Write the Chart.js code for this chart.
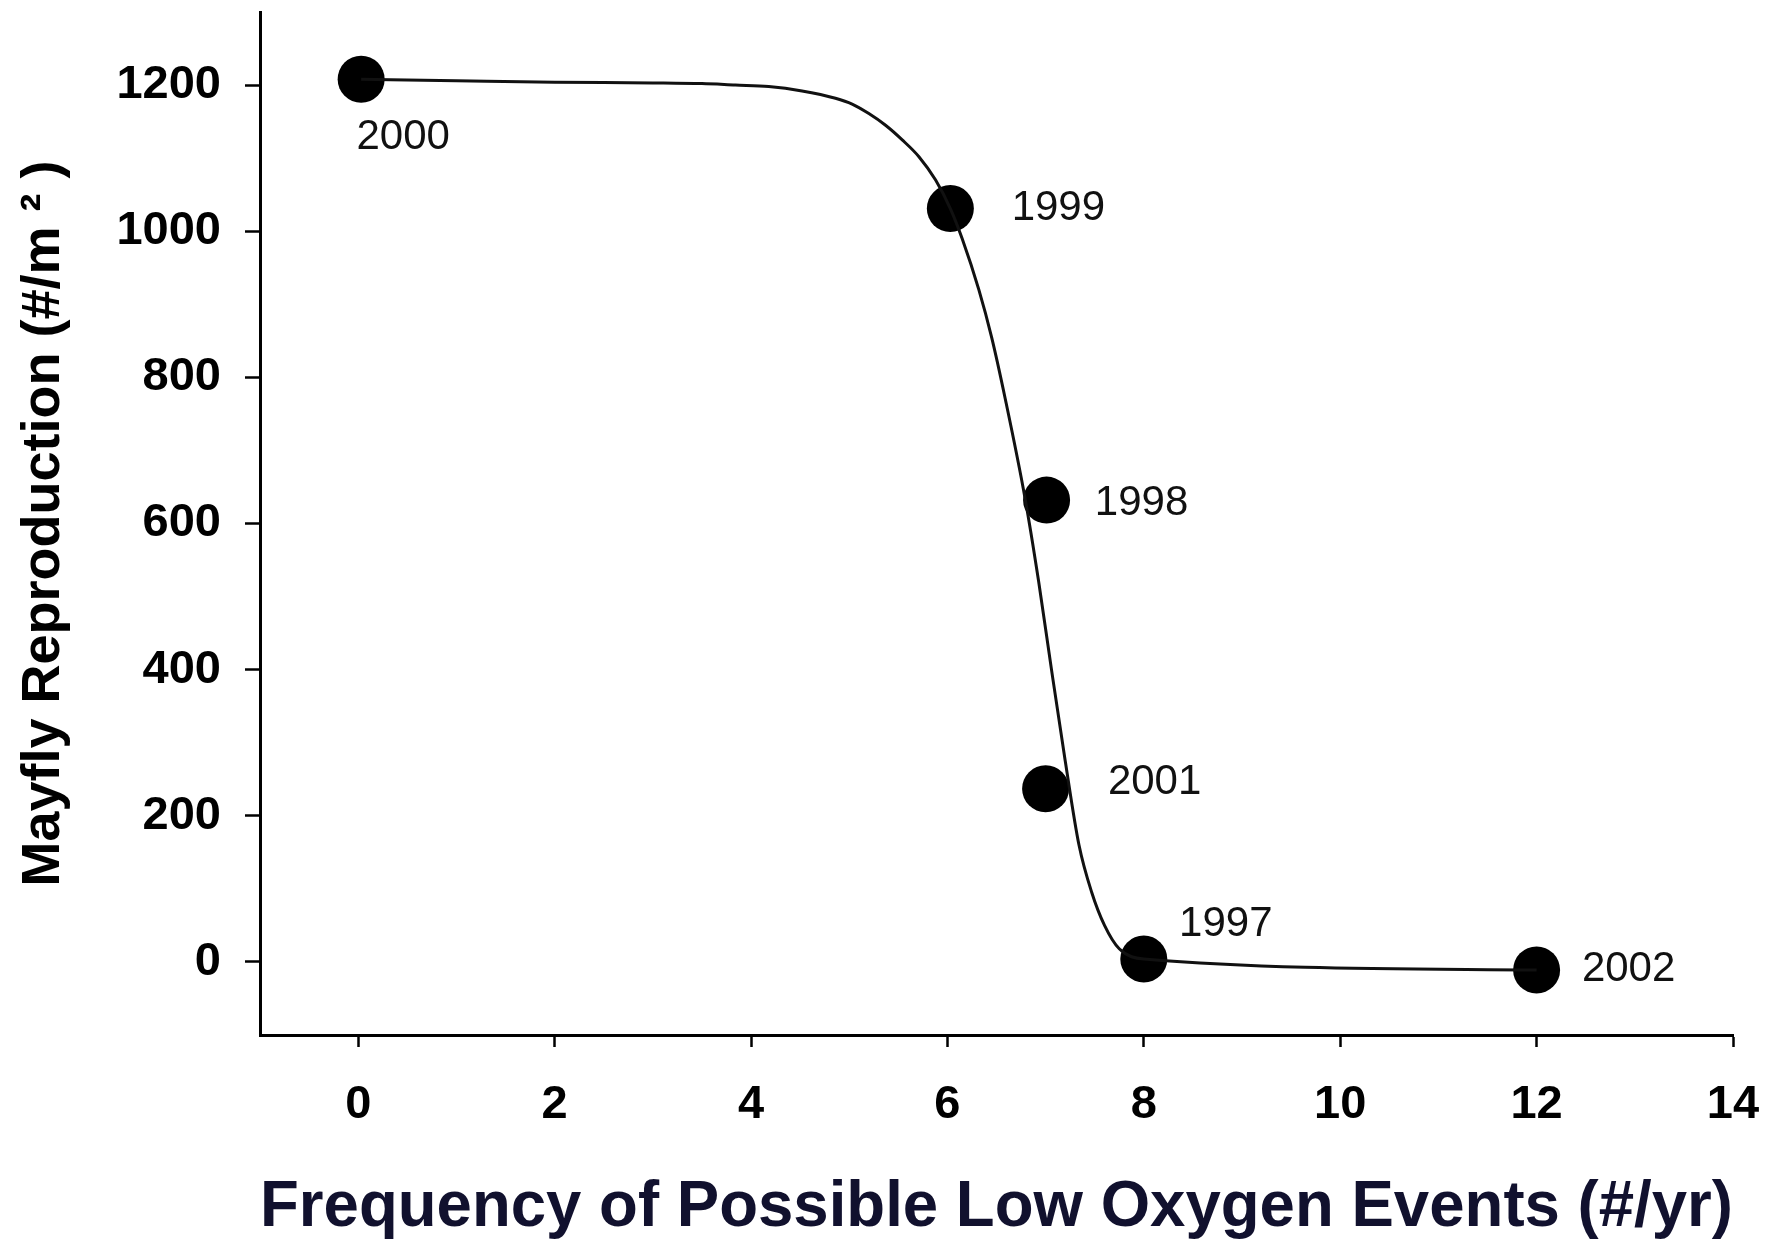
<!DOCTYPE html>
<html>
<head>
<meta charset="utf-8">
<title>Mayfly Reproduction vs Low Oxygen Events</title>
<script src="https://cdn.jsdelivr.net/npm/chart.js@4/dist/chart.umd.min.js"></script>
<style>
  html, body { margin: 0; padding: 0; background: #ffffff; }
  #wrap { width: 1782px; height: 1246px; }
</style>
</head>
<body>
<div id="wrap"><canvas id="chart" width="1782" height="1246"></canvas></div>
<script>
// Observed years: low-oxygen event frequency (#/yr) and mayfly reproduction (#/m2)
const years = ['2000', '1999', '1998', '2001', '1997', '2002'];
const eventFreq = [0.03, 6.03, 7.01, 7.0, 8.0, 12.0];
const reproduction = [1208, 1031, 632, 237, 4, -11];

// Fitted response curve traced through the observations
const curveX = [0.03, 1, 2, 3, 3.5, 3.84, 4.18, 4.52, 4.86, 5.03, 5.2, 5.37, 5.54, 5.71, 5.88, 6.03,
                6.15, 6.32, 6.45, 6.59, 6.79, 6.93, 7.06, 7.2, 7.34, 7.47, 7.6, 7.75, 8.0, 12.0];
const curveY = [1208, 1206, 1204, 1203, 1202, 1200, 1198, 1192, 1182, 1174, 1161, 1145, 1125, 1102, 1070, 1031,
                990, 920, 855, 770, 635, 520, 400, 275, 160, 95, 50, 18, 4, -11];

// Axis tick values
const xTickValues = [0, 2, 4, 6, 8, 10, 12, 14];
const yTickValues = [0, 200, 400, 600, 800, 1000, 1200];

// Year label placement relative to each dot (px)
const labelOffsets = [[42, 58], [108, 0], [95, 3], [109, -6], [82, -35], [92, -1]];

const FONT = '"Liberation Sans", Arial, Helvetica, sans-serif';

const yearLabels = {
  id: 'yearLabels',
  afterDatasetsDraw(chart) {
    const meta = chart.getDatasetMeta(1);
    const ctx = chart.ctx;
    ctx.save();
    ctx.font = '42px ' + FONT;
    ctx.fillStyle = '#111111';
    ctx.textAlign = 'center';
    ctx.textBaseline = 'middle';
    meta.data.forEach((pt, i) => {
      const off = labelOffsets[i];
      ctx.fillText(years[i], pt.x + off[0], pt.y + off[1]);
    });
    ctx.restore();
  }
};

function pinScale(size) {
  return s => {
    if (s.isHorizontal()) { s.height = size; } else { s.width = size; }
    s.paddingTop = 0; s.paddingBottom = 0; s.paddingLeft = 0; s.paddingRight = 0;
  };
}

new Chart(document.getElementById('chart'), {
  type: 'scatter',
  data: {
    datasets: [
      {
        label: 'Fitted curve',
        data: curveX.map((x, i) => ({ x: x, y: curveY[i] })),
        showLine: true,
        cubicInterpolationMode: 'monotone',
        borderColor: '#111111',
        borderWidth: 3,
        pointRadius: 0,
        fill: false,
        clip: false
      },
      {
        label: 'Observed',
        data: eventFreq.map((x, i) => ({ x: x, y: reproduction[i] })),
        showLine: false,
        pointRadius: 23.5,
        pointHoverRadius: 23.5,
        pointBackgroundColor: '#000000',
        pointBorderColor: '#000000',
        pointBorderWidth: 0,
        clip: false
      }
    ]
  },
  options: {
    responsive: false,
    devicePixelRatio: 1,
    animation: false,
    events: [],
    layout: { autoPadding: false, padding: { top: 12, right: 49, left: 0, bottom: 0 } },
    plugins: {
      legend: { display: false },
      tooltip: { enabled: false }
    },
    scales: {
      x: {
        type: 'linear',
        position: 'bottom',
        min: -1,
        max: 14,
        afterBuildTicks: s => { s.ticks = xTickValues.map(v => ({ value: v })); },
        afterFit: pinScale(211),
        border: { display: true, color: '#000000', width: 3 },
        grid: { drawOnChartArea: false, drawTicks: true, tickLength: 12, tickWidth: 2.5, tickColor: '#000000' },
        ticks: {
          callback: v => String(v),
          color: '#000000',
          padding: 30,
          font: { family: FONT, size: 47, weight: 'bold' },
          maxRotation: 0
        },
        title: {
          display: true,
          text: 'Frequency of Possible Low Oxygen Events (#/yr)',
          color: '#11112e',
          font: { family: FONT, size: 65, weight: 'bold', lineHeight: 1 },
          padding: { top: 0, bottom: 5 }
        }
      },
      y: {
        type: 'linear',
        min: -100,
        max: 1300,
        afterBuildTicks: s => { s.ticks = yTickValues.map(v => ({ value: v })); },
        afterFit: pinScale(260),
        border: { display: true, color: '#000000', width: 3 },
        grid: { drawOnChartArea: false, drawTicks: true, tickLength: 15, tickWidth: 2.5, tickColor: '#000000' },
        ticks: {
          callback: v => String(v),
          color: '#000000',
          padding: 24,
          font: { family: FONT, size: 47, weight: 'bold' }
        },
        title: {
          display: true,
          text: 'Mayfly Reproduction (#/m ² )',
          color: '#000000',
          font: { family: FONT, size: 54, weight: 'bold' },
          padding: { top: 12, bottom: 0 }
        }
      }
    }
  },
  plugins: [yearLabels]
});
</script>
</body>
</html>
